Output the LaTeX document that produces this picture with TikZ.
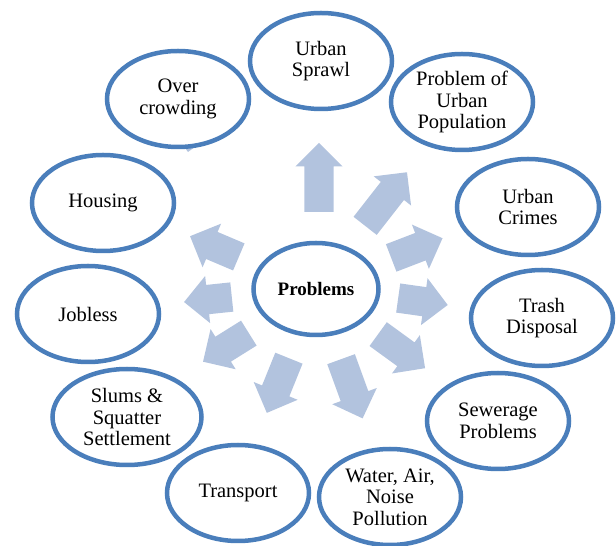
\documentclass[tikz,border=0pt]{standalone}
\usepackage{fontspec}
\setmainfont{Liberation Serif}
\usetikzlibrary{shapes.geometric,shapes.arrows}
\definecolor{ringblue}{RGB}{74,126,187}
\definecolor{arrowblue}{RGB}{178,195,222}
\tikzset{
  topic/.style={draw=ringblue, line width=4.5pt, fill=white, ellipse, inner sep=0pt,
    minimum width=142pt, minimum height=96pt, align=center,
    font=\fontsize{20.5}{21.5}\selectfont},
  blockarrow/.style={single arrow, fill=arrowblue, draw=none, inner xsep=0pt,
    inner ysep=14.5pt, single arrow head extend=9pt, single arrow tip angle=90,
    anchor=tail}
}
\begin{document}
\begin{tikzpicture}[x=1pt,y=1pt]
\useasboundingbox (0,0) rectangle (616,546);

% block arrows round the centre
\node[blockarrow, rotate=126, minimum height=60pt] (arcrowd) at (200,402.5) {};
\node[blockarrow, rotate=90, minimum height=69pt] (arsprawl) at (319,334) {};
\node[blockarrow, rotate=52, minimum height=68pt] (arpop) at (365,320) {};
\node[blockarrow, rotate=21, minimum height=55pt] (arcrime) at (391,288) {};
\node[blockarrow, rotate=-8, minimum height=50pt] (artrash) at (398,248) {};
\node[blockarrow, rotate=-36, minimum height=58pt] (arsewer) at (378,212) {};
\node[blockarrow, rotate=-70, minimum height=63pt] (arwater) at (341,187) {};
\node[blockarrow, rotate=-112, minimum height=59pt] (artrans) at (289,188) {};
\node[blockarrow, rotate=-148, minimum height=54pt] (arslum) at (249,213) {};
\node[blockarrow, rotate=186, minimum height=48pt] (arjob) at (232,249) {};
\node[blockarrow, rotate=157, minimum height=53pt] (arhouse) at (239,289) {};

% the problems
\node[topic] (sprawl) at (321,485) {Urban\\Sprawl};
\node[topic] (pop) at (462,444) {Problem of\\Urban\\Population};
\node[topic] (crime) at (528,339) {Urban\\Crimes};
\node[topic] (trash) at (542,228) {Trash\\Disposal};
\node[topic] (sewer) at (498,125) {Sewerage\\Problems};
\node[topic] (water) at (390,49) {Water, Air,\\Noise\\Pollution};
\node[topic] (trans) at (238,53) {Transport};
\node[topic, minimum width=149pt] (slum) at (127,129) {Slums \&\\Squatter\\Settlement};
\node[topic] (job) at (88,232) {Jobless};
\node[topic] (house) at (103,343) {Housing};
\node[topic] (crowd) at (178,447) {Over\\crowding};

\node[topic, minimum width=125pt, minimum height=92pt, font=\fontsize{19}{21}\selectfont\bfseries] (centre) at (316,257) {Problems};
\end{tikzpicture}
\end{document}
